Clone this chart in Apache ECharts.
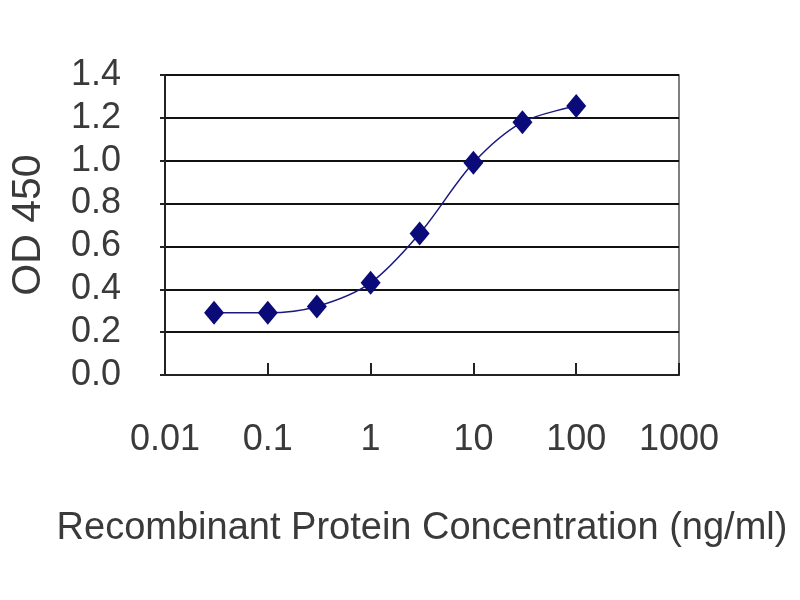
<!DOCTYPE html>
<html>
<head>
<meta charset="utf-8">
<script src="https://cdn.jsdelivr.net/npm/echarts@6/dist/echarts.min.js"></script>
<style>
html,body{margin:0;padding:0;background:#fff;}
#chart{width:800px;height:600px;}
</style>
</head>
<body>
<div id="chart"></div>
<script>
// Data
var concentrations = [0.03, 0.1, 0.3, 1, 3, 10, 30, 100];
var odValues = [0.29, 0.29, 0.32, 0.43, 0.66, 0.99, 1.18, 1.255];
var xTickLabels = ['0.01', '0.1', '1', '10', '100', '1000'];
var yTickLabels = ['0.0', '0.2', '0.4', '0.6', '0.8', '1.0', '1.2', '1.4'];

var FONT = "'Liberation Sans', Arial, sans-serif";
var chart = echarts.init(document.getElementById('chart'));

var points = concentrations.map(function (c, i) { return [c, odValues[i]]; });

chart.setOption({
  backgroundColor: '#ffffff',
  animation: false,
  grid: {
    left: 165, right: 121, top: 75, bottom: 225,
    outerBoundsMode: 'none',
    containLabel: false,
    show: true, borderColor: '#555', borderWidth: 1.5, backgroundColor: 'transparent'
  },
  xAxis: {
    type: 'log',
    logBase: 10,
    min: 0.01,
    max: 1000,
    name: 'Recombinant Protein Concentration (ng/ml)',
    nameLocation: 'middle',
    nameGap: 135,
    nameTextStyle: { fontFamily: FONT, fontSize: 38, color: '#3a3a3a' },
    axisLine: { show: true, lineStyle: { color: '#222', width: 2 } },
    axisTick: { show: true, inside: true, length: 12, lineStyle: { color: '#222', width: 2 } },
    splitLine: { show: false },
    axisLabel: {
      margin: 47,
      fontFamily: FONT, fontSize: 36, color: '#3a3a3a',
      formatter: function (v) {
        var idx = Math.round(Math.log10(v)) + 2;
        return xTickLabels[idx] !== undefined ? xTickLabels[idx] : '';
      }
    }
  },
  yAxis: {
    type: 'value',
    min: 0,
    max: 1.4,
    interval: 0.2,
    name: 'OD 450',
    nameLocation: 'middle',
    nameGap: 116,
    nameTextStyle: { fontFamily: FONT, fontSize: 41, color: '#3a3a3a' },
    axisLine: { show: true, lineStyle: { color: '#222', width: 2 } },
    axisTick: { show: true, inside: false, length: 5, lineStyle: { color: '#222', width: 2 } },
    splitLine: { show: true, lineStyle: { color: '#111', width: 2 } },
    axisLabel: {
      margin: 44,
      fontFamily: FONT, fontSize: 36, color: '#3a3a3a',
      formatter: function (v) {
        var idx = Math.round(v / 0.2);
        return yTickLabels[idx] !== undefined ? yTickLabels[idx] : '';
      }
    }
  },
  series: [{
    type: 'line',
    data: points,
    smooth: 0.3,
    symbol: 'diamond',
    symbolSize: [20, 24],
    lineStyle: { color: '#1a1a80', width: 1.5 },
    itemStyle: { color: '#0a0a78' }
  }]
});
</script>
</body>
</html>
